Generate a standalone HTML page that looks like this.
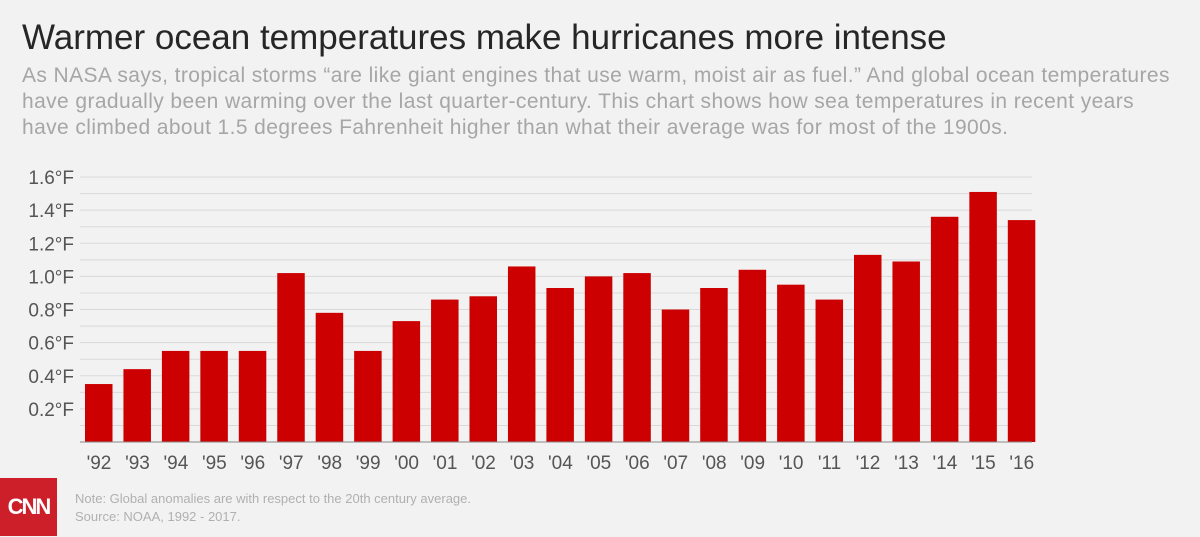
<!DOCTYPE html>
<html><head><meta charset="utf-8"><style>
body{margin:0;width:1200px;height:537px;background:#f2f2f2;font-family:"Liberation Sans",sans-serif;overflow:hidden;position:relative}
#title{position:absolute;left:22px;top:18px;font-size:35px;color:#262626;white-space:nowrap}
#sub{position:absolute;left:22px;top:63px;font-size:21px;line-height:26px;letter-spacing:0.4px;color:#a6a6a6;width:1176px;white-space:nowrap}
#logo{position:absolute;left:0;top:478px;width:57px;height:58px;background:#cc1f2a;color:#fff;font-weight:bold;font-size:22px;text-align:center;line-height:58px;letter-spacing:-2px}
#note{position:absolute;left:75px;top:490px;font-size:13px;line-height:18px;color:#b0b0b0}
</style></head><body>
<div id="title">Warmer ocean temperatures make hurricanes more intense</div>
<div id="sub">As NASA says, tropical storms “are like giant engines that use warm, moist air as fuel.” And global ocean temperatures<br>have gradually been warming over the last quarter-century. This chart shows how sea temperatures in recent years<br>have climbed about 1.5 degrees Fahrenheit higher than what their average was for most of the 1900s.</div>
<svg id="chart" width="1200" height="537" style="position:absolute;left:0;top:0"></svg>
<div id="logo">CNN</div>
<div id="note">Note: Global anomalies are with respect to the 20th century average.<br>Source: NOAA, 1992 - 2017.</div>
<script>
const categories=["'92","'93","'94","'95","'96","'97","'98","'99","'00","'01","'02","'03","'04","'05","'06","'07","'08","'09","'10","'11","'12","'13","'14","'15","'16"];
const values=[0.35,0.44,0.55,0.55,0.55,1.02,0.78,0.55,0.73,0.86,0.88,1.06,0.93,1.00,1.02,0.80,0.93,1.04,0.95,0.86,1.13,1.09,1.36,1.51,1.34];
const ticks=[0.2,0.4,0.6,0.8,1.0,1.2,1.4,1.6];
const tickLabels=["0.2°F","0.4°F","0.6°F","0.8°F","1.0°F","1.2°F","1.4°F","1.6°F"];
const svg=document.getElementById('chart');const NS='http://www.w3.org/2000/svg';
const y=v=>442-v*165.6;const x=i=>85+i*38.45;
function mk(t,a){const e=document.createElementNS(NS,t);for(const k in a)e.setAttribute(k,a[k]);svg.appendChild(e);return e;}
for(let g=1;g<=16;g++){const l=mk('line',{x1:80,x2:1032,y1:y(g/10),y2:y(g/10),stroke:'#d9d9d9','stroke-width':1});

}
ticks.forEach((t,i)=>{const e=mk('text',{x:74,y:y(t)+7,'text-anchor':'end','font-size':19,fill:'#555'});e.textContent=tickLabels[i];

});
values.forEach((v,i)=>{const r=mk('rect',{x:x(i),y:y(v),width:27.5,height:442-y(v),fill:'#cc0000'});


const t=mk('text',{x:x(i)+14,y:469,'text-anchor':'middle','font-size':19,fill:'#555'});t.textContent=categories[i];

});
const a=mk('line',{x1:80,x2:1032,y1:442,y2:442,stroke:'#888','stroke-width':1});


</script>
</body></html>
